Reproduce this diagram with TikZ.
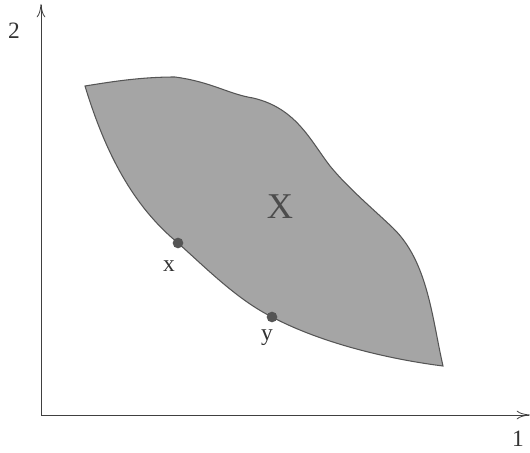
\documentclass[tikz,border=0pt]{standalone}
\usepackage{fontspec}
\setmainfont{Liberation Serif}
\usepackage{xcolor}
\usetikzlibrary{arrows.meta,positioning,calc}
\definecolor{RegionGray}{RGB}{165,165,165}
\definecolor{EdgeGray}{RGB}{85,85,85}

\begin{document}
\begin{tikzpicture}[
    x=0.03cm, y=-0.03cm,
    lbl/.style={inner sep=0pt, font=\fontsize{20}{24}\selectfont, text=black!80},
    axis/.style={line width=0.7pt, black!75, -{To[length=4mm,width=2.6mm]}},
    pt/.style={circle, fill=EdgeGray, inner sep=0pt, minimum size=3.2mm},
  ]
  \useasboundingbox (0,0) rectangle (530,453);

  % Achsen
  \coordinate (o) at (41,415);
  \coordinate (xend) at (530,415);
  \coordinate (yend) at (41,4);
  \draw[axis] (o) -- (xend);
  \draw[axis] (o) -- (yend);
  \node[lbl] (ax1) at (518,439) {1};
  \node[lbl] (ax2) at (14,31) {2};

  % Menge X
  \coordinate (tl) at (85,86);
  \coordinate (br) at (443,366);
  \coordinate (px) at (178,243);
  \coordinate (py) at (272,317);
  \filldraw[fill=RegionGray, draw=EdgeGray, line width=0.9pt]
    (tl) .. controls (108,162) and (138,210) .. (px)
         .. controls (208,270) and (238,300) .. (py)
         .. controls (325,345) and (395,360) .. (br)
         .. controls (432,318) and (428,262) .. (393,228)
         .. controls (372,208) and (348,188) .. (330,166)
         .. controls (310,140) and (296,108) .. (253,98)
         .. controls (228,94) and (212,82) .. (175,77)
         .. controls (140,77) and (110,82) .. (tl) -- cycle;

  \node[font=\fontsize{31}{36}\selectfont, text=black!70] (setX) at (280,207) {X};

  % Punkte x und y
  \node[pt] (dx) at (px) {};
  \node[pt] (dy) at (py) {};
  \node[lbl] (labx) at (169,266) {x};
  \node[lbl] (laby) at (267,338) {y};

\end{tikzpicture}
\end{document}
